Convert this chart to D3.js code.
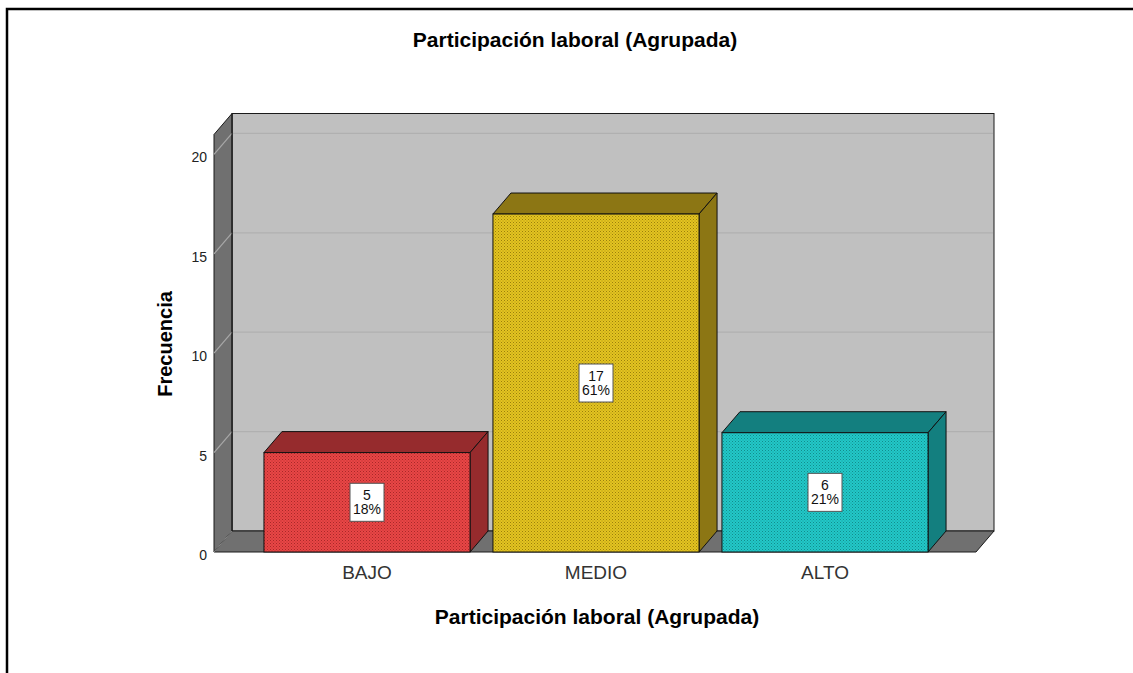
<!DOCTYPE html>
<html>
<head>
<meta charset="utf-8">
<script src="https://cdn.jsdelivr.net/npm/d3@7"></script>
<style>
  html, body { margin: 0; padding: 0; background: #fff; }
  svg { display: block; font-family: "Liberation Sans", Arial, sans-serif; }
</style>
</head>
<body>
<svg id="chart" width="1133" height="673"></svg>
<script>
// ---- data ----
const categories = ["BAJO", "MEDIO", "ALTO"];
const counts = [5, 17, 6];
const percents = ["18%", "61%", "21%"];
const tickValues = [0, 5, 10, 15, 20];
const chartTitle = "Participación laboral (Agrupada)";
const xTitle = "Participación laboral (Agrupada)";
const yTitle = "Frecuencia";

// ---- style ----
const frontColors = ["#e84646", "#e4c420", "#22c8c8"];
const dotColors = ["#a82828", "#9a800c", "#128c8c"];
const sideColors = ["#962b2d", "#8c7614", "#137f7f"];

const svg = d3.select("#chart");
const W = 1133, H = 673;
const DX = 18, DY = -21;

const y = d3.scaleLinear().domain([0, 21]).range([552, 134.5]);
const x = d3.scaleBand().domain(categories).range([252.5, 939.5])
  .paddingInner(0.1).paddingOuter(0.05);

const floorLeft = 214, floorRight = 976;

// patterns
const defs = svg.append("defs");
frontColors.forEach((c, i) => {
  const p = defs.append("pattern").attr("id", "pat" + i)
    .attr("width", 3).attr("height", 3).attr("patternUnits", "userSpaceOnUse");
  p.append("rect").attr("width", 3).attr("height", 3).attr("fill", c);
  p.append("rect").attr("x", 0).attr("y", 0).attr("width", 1).attr("height", 1).attr("fill", dotColors[i]);
  p.append("rect").attr("x", 1.5).attr("y", 1.5).attr("width", 1).attr("height", 1).attr("fill", dotColors[i]).attr("opacity", 0.8);
});

// outer frame
svg.append("path").attr("d", `M7,${H} L7,9 L${W},9`).attr("fill", "none")
  .attr("stroke", "#000").attr("stroke-width", 2.5);

// title
svg.append("text").attr("x", 575).attr("y", 47).attr("text-anchor", "middle")
  .attr("font-size", 21).attr("font-weight", "bold").attr("fill", "#000").text(chartTitle);

const y0 = y(0), yTop = y(21);

// back wall
svg.append("rect").attr("x", floorLeft + DX).attr("y", yTop + DY)
  .attr("width", floorRight - floorLeft).attr("height", y0 - yTop)
  .attr("fill", "#c0c0c0").attr("stroke", "#1a1a1a").attr("stroke-width", 1);

// side wall
svg.append("path")
  .attr("d", `M${floorLeft},${y0} L${floorLeft},${yTop} L${floorLeft + DX},${yTop + DY} L${floorLeft + DX},${y0 + DY} Z`)
  .attr("fill", "#707070").attr("stroke", "#1a1a1a").attr("stroke-width", 1);

// floor
svg.append("path")
  .attr("d", `M${floorLeft},${y0} L${floorLeft + DX},${y0 + DY} L${floorRight + DX},${y0 + DY} L${floorRight},${y0} Z`)
  .attr("fill", "#707070").attr("stroke", "#1a1a1a").attr("stroke-width", 1);

// gridlines
const grid = svg.append("g");
tickValues.filter(v => v > 0).forEach(v => {
  grid.append("line").attr("x1", floorLeft + DX + 1).attr("x2", floorRight + DX - 1)
    .attr("y1", y(v) + DY).attr("y2", y(v) + DY)
    .attr("stroke", "#b0b0b0").attr("stroke-width", 1.2);
  grid.append("line").attr("x1", floorLeft).attr("x2", floorLeft + DX)
    .attr("y1", y(v)).attr("y2", y(v) + DY)
    .attr("stroke", "#a8a8a8").attr("stroke-width", 1.2);
});
grid.append("line").attr("x1", floorLeft).attr("x2", floorLeft + DX)
  .attr("y1", y0).attr("y2", y0 + DY).attr("stroke", "#8a8a8a").attr("stroke-width", 1);

svg.append("line").attr("x1", floorLeft + DX).attr("x2", floorLeft + DX)
  .attr("y1", yTop + DY).attr("y2", y0 + DY).attr("stroke", "#1a1a1a");

// y axis
const yAxis = svg.append("g").attr("transform", `translate(${floorLeft - 6},3)`)
  .call(d3.axisLeft(y).tickValues(tickValues).tickSize(0).tickPadding(1));
yAxis.select(".domain").remove();
yAxis.selectAll("text").attr("font-size", 14).attr("fill", "#222")
  .attr("font-family", "Liberation Sans, Arial, sans-serif");

// bars
const bars = svg.append("g");
categories.forEach((c, i) => {
  const x0 = x(c), x1 = x0 + x.bandwidth(), yt = y(counts[i]);
  const g = bars.append("g");
  g.append("path")
    .attr("d", `M${x0},${yt} L${x0 + DX},${yt + DY} L${x1 + DX},${yt + DY} L${x1},${yt} Z`)
    .attr("fill", sideColors[i]).attr("stroke", "#111").attr("stroke-width", 1).attr("stroke-linejoin", "round");
  g.append("path")
    .attr("d", `M${x1},${yt} L${x1 + DX},${yt + DY} L${x1 + DX},${y0 + DY} L${x1},${y0} Z`)
    .attr("fill", sideColors[i]).attr("stroke", "#111").attr("stroke-width", 1).attr("stroke-linejoin", "round");
  g.append("rect").attr("x", x0).attr("y", yt).attr("width", x1 - x0).attr("height", y0 - yt)
    .attr("fill", `url(#pat${i})`).attr("stroke", "#111").attr("stroke-width", 1);

  const cx = (x0 + x1) / 2, cy = (yt + y0) / 2;
  g.append("rect").attr("x", cx - 17).attr("y", cy - 19).attr("width", 34).attr("height", 38)
    .attr("fill", "#fff").attr("stroke", "#555").attr("stroke-width", 1);
  g.append("text").attr("x", cx).attr("y", cy - 2).attr("text-anchor", "middle")
    .attr("font-size", 14).attr("fill", "#111").text(counts[i]);
  g.append("text").attr("x", cx).attr("y", cy + 12).attr("text-anchor", "middle")
    .attr("font-size", 14).attr("fill", "#111").text(percents[i]);
});

// x axis labels
const xAxis = svg.append("g").attr("transform", `translate(0,${y0})`)
  .call(d3.axisBottom(x).tickSize(0).tickPadding(14));
xAxis.select(".domain").remove();
xAxis.selectAll("text").attr("font-size", 19).attr("fill", "#333")
  .attr("font-family", "Liberation Sans, Arial, sans-serif").attr("dy", "0.71em");

// axis titles
svg.append("text").attr("x", 597).attr("y", 624).attr("text-anchor", "middle")
  .attr("font-size", 21).attr("font-weight", "bold").attr("fill", "#000").text(xTitle);
svg.append("text").attr("transform", "translate(172,344) rotate(-90)").attr("text-anchor", "middle")
  .attr("font-size", 20).attr("font-weight", "bold").attr("fill", "#000").text(yTitle);
</script>
</body>
</html>
